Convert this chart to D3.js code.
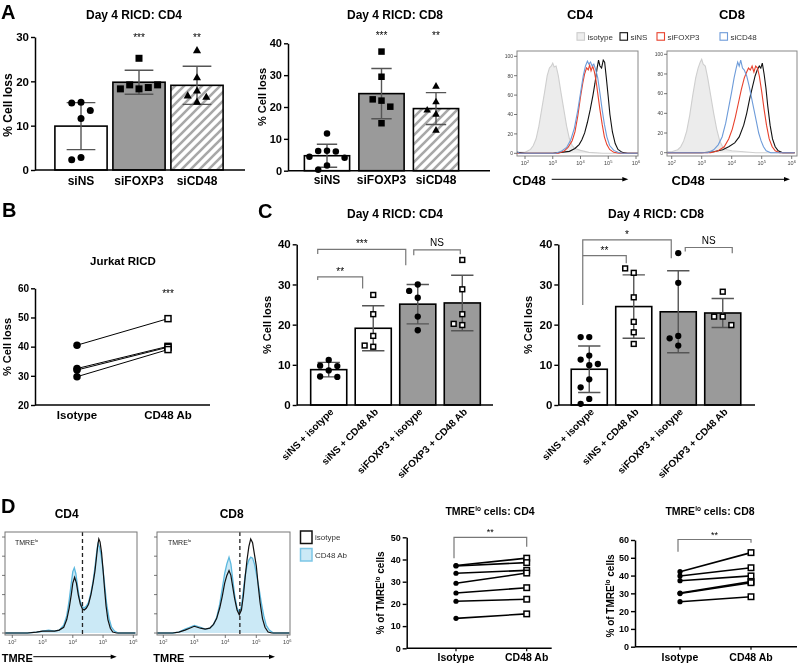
<!DOCTYPE html>
<html><head><meta charset="utf-8">
<script src="https://cdn.jsdelivr.net/npm/d3@7"></script>
<style>body{margin:0;background:#fff}svg{display:block;font-family:"Liberation Sans",Arial,sans-serif;will-change:transform;-webkit-font-smoothing:antialiased}</style>
</head><body><svg id="c" width="798" height="665"></svg>
<script>
// ================= DATA =================
// Panel A bar charts
const aCats = ["siNS", "siFOXP3", "siCD48"];
const aCD4Mean = [9.9, 19.8, 19.1];
const aCD4SD = [5.3, 2.7, 4.3];
const aCD4Pts = [
  [15.3, 15.1, 13.4, 11.6, 2.8, 2.3],
  [25.2, 18.3, 19.2, 18.6, 19.2, 18.3],
  [27.0, 20.9, 17.9, 16.8, 15.4, 16.5]
];
const aCD8Mean = [4.7, 24.2, 19.5];
const aCD8SD = [3.6, 7.9, 5.0];
const aCD8Pts = [
  [11.7, 6.3, 6.2, 6.0, 4.4, 4.1, 1.6, 0.3],
  [37.4, 29.5, 22.0, 22.4, 20.1, 14.9],
  [26.6, 21.7, 19.1, 17.8, 12.8]
];
const aCD4Ticks = [0, 10, 20, 30];
const aCD8Ticks = [0, 10, 20, 30, 40];
const aStars = ["", "***", "**"];

// Panel A histograms: [log10(CD48), % of max]
const histLegend = ["isotype", "siNS", "siFOXP3", "siCD48"];
const histTickExp = [2, 3, 4, 5, 6];
const histYTicks = [0, 20, 40, 60, 80, 100];
const isoA4 = [[1.7,1],[1.9,1],[2.0,1],[2.2,4],[2.3,8],[2.4,15],[2.5,28],[2.6,45],[2.7,62],[2.8,80],[2.88,88],[2.95,90],[3.0,93],[3.05,89],[3.12,90],[3.2,80],[3.3,62],[3.4,45],[3.5,28],[3.6,15],[3.7,8],[3.8,5],[4.0,3],[4.3,1],[4.8,0],[6.1,0]];
const nsA4 = [[1.7,1],[2.0,0],[3.0,0],[3.3,1],[3.6,2],[3.8,5],[3.95,9],[4.05,14],[4.15,21],[4.25,32],[4.35,45],[4.45,60],[4.52,72],[4.6,88],[4.65,96],[4.7,90],[4.76,88],[4.82,96],[4.87,94],[4.93,78],[5.0,58],[5.06,40],[5.15,22],[5.25,10],[5.35,4],[5.5,1],[5.7,0],[6.1,0]];
const foxA4 = [[1.7,0],[3.2,0],[3.4,2],[3.55,6],[3.7,13],[3.8,22],[3.9,38],[4.0,58],[4.08,72],[4.15,82],[4.22,88],[4.28,86],[4.33,91],[4.38,85],[4.44,90],[4.5,84],[4.56,75],[4.62,62],[4.7,45],[4.78,30],[4.86,17],[4.95,9],[5.05,4],[5.2,1],[5.4,0],[6.1,0]];
const cdA4 = [[1.7,2],[1.8,0],[3.1,0],[3.3,2],[3.5,6],[3.65,14],[3.78,26],[3.9,44],[4.0,62],[4.1,80],[4.18,90],[4.25,95],[4.3,92],[4.36,94],[4.42,90],[4.48,92],[4.55,86],[4.62,78],[4.7,62],[4.78,45],[4.86,30],[4.95,17],[5.05,8],[5.2,3],[5.35,1],[5.5,0],[6.1,0]];
const isoA8 = [[1.7,3],[1.8,1],[2.0,1],[2.2,3],[2.3,6],[2.4,12],[2.5,22],[2.6,38],[2.7,58],[2.8,76],[2.88,86],[2.95,92],[3.0,95],[3.05,90],[3.12,88],[3.2,76],[3.3,58],[3.4,40],[3.5,24],[3.6,12],[3.7,6],[3.85,3],[4.0,2],[4.4,1],[4.8,0],[6.1,0]];
const nsA8 = [[1.7,0],[3.0,0],[3.4,1],[3.7,3],[3.9,6],[4.1,10],[4.25,16],[4.4,28],[4.5,40],[4.6,55],[4.7,68],[4.78,78],[4.85,84],[4.92,88],[4.97,86],[5.02,91],[5.08,80],[5.14,66],[5.2,48],[5.28,28],[5.36,14],[5.45,6],[5.55,2],[5.7,0],[6.1,0]];
const foxA8 = [[1.7,0],[3.3,0],[3.55,2],[3.75,6],[3.9,14],[4.02,24],[4.12,36],[4.22,50],[4.32,64],[4.42,76],[4.5,82],[4.56,86],[4.62,84],[4.68,88],[4.74,82],[4.8,88],[4.86,86],[4.92,78],[5.0,62],[5.08,44],[5.16,28],[5.25,14],[5.35,6],[5.45,2],[5.6,0],[6.1,0]];
const cdA8 = [[1.7,2],[1.8,0],[3.2,0],[3.4,3],[3.55,8],[3.68,16],[3.8,30],[3.9,46],[4.0,62],[4.08,76],[4.15,86],[4.2,92],[4.25,88],[4.3,94],[4.36,86],[4.42,84],[4.5,78],[4.58,68],[4.66,56],[4.74,44],[4.82,32],[4.9,20],[4.98,12],[5.06,6],[5.15,2],[5.3,0],[6.1,0]];

// Panel B
const bCats = ["Isotype", "CD48 Ab"];
const bPairs = [[40.5, 49.6], [32.5, 40.1], [32.0, 39.8], [29.7, 39.0]];
const bTicks = [20, 30, 40, 50, 60];

// Panel C
const cCats = ["siNS + isotype", "siNS + CD48 Ab", "siFOXP3 + isotype", "siFOXP3 + CD48 Ab"];
const cCD4Mean = [8.8, 19.1, 25.1, 25.4];
const cCD4SD = [1.8, 5.6, 4.9, 6.9];
const cCD4Pts = [
  [11.2, 9.8, 9.7, 8.6, 7.1, 7.0],
  [27.4, 22.6, 17.2, 14.5, 14.8],
  [30.0, 28.4, 26.7, 22.0, 18.6],
  [36.1, 28.8, 22.6, 19.9, 20.2]
];
const cCD8Mean = [8.9, 24.5, 23.2, 22.9];
const cCD8SD = [5.8, 7.9, 10.2, 3.6];
const cCD8Pts = [
  [16.9, 16.9, 12.3, 11.3, 10.2, 9.9, 6.4, 4.4, 1.5, 0.3],
  [32.9, 34.0, 26.8, 20.7, 18.1, 15.2],
  [37.8, 30.4, 17.2, 16.6, 14.8],
  [28.2, 22.0, 22.0, 19.9]
];
const cTicks = [0, 10, 20, 30, 40];
const cCD4Sig = [["**", 0, 1], ["***", 0, 2], ["NS", 2, 3]];
const cCD8Sig = [["**", 0, 1], ["*", 0, 2], ["NS", 2, 3]];

// Panel D histograms: [log10(TMRE), % of max]
const dLegend = ["isotype", "CD48 Ab"];
const isoD4 = [[1.76,0],[2.5,0],[2.8,1],[3.0,2],[3.2,2],[3.4,2],[3.55,3],[3.7,6],[3.8,14],[3.88,26],[3.95,40],[4.0,52],[4.06,58],[4.12,52],[4.18,40],[4.25,30],[4.32,25],[4.38,24],[4.45,26],[4.52,30],[4.6,40],[4.67,52],[4.73,64],[4.78,78],[4.82,90],[4.86,98],[4.9,95],[4.95,84],[5.0,66],[5.05,46],[5.1,28],[5.16,14],[5.24,5],[5.32,1],[5.45,0],[6.07,0]];
const cdD4 = [[1.76,0],[2.5,0],[2.8,1],[3.0,2],[3.2,3],[3.4,2],[3.55,3],[3.7,8],[3.8,18],[3.88,34],[3.95,52],[4.0,64],[4.05,68],[4.1,62],[4.16,48],[4.22,36],[4.3,28],[4.37,26],[4.45,28],[4.52,32],[4.6,42],[4.67,54],[4.73,68],[4.78,82],[4.83,93],[4.88,90],[4.94,80],[5.0,66],[5.06,48],[5.12,30],[5.2,15],[5.28,6],[5.38,2],[5.5,0],[6.07,0]];
const isoD8 = [[1.8,0],[2.3,0],[2.5,1],[2.7,3],[2.85,5],[3.0,7],[3.1,6],[3.2,5],[3.35,4],[3.5,5],[3.62,9],[3.72,15],[3.82,26],[3.9,38],[3.98,52],[4.05,60],[4.12,65],[4.18,60],[4.24,48],[4.3,36],[4.38,24],[4.45,19],[4.52,24],[4.58,38],[4.64,58],[4.7,76],[4.76,90],[4.82,98],[4.88,94],[4.94,82],[5.0,70],[5.06,50],[5.12,32],[5.2,15],[5.28,6],[5.38,1],[5.5,0],[6.07,0]];
const cdD8 = [[1.8,0],[2.3,0],[2.5,1],[2.7,4],[2.85,6],[3.0,8],[3.1,7],[3.2,6],[3.35,4],[3.5,5],[3.62,9],[3.72,16],[3.82,30],[3.9,46],[3.98,62],[4.05,72],[4.12,79],[4.18,72],[4.24,56],[4.3,40],[4.38,26],[4.45,22],[4.52,28],[4.58,44],[4.64,60],[4.7,70],[4.76,76],[4.82,79],[4.88,78],[4.94,72],[5.0,62],[5.08,48],[5.16,32],[5.24,18],[5.32,8],[5.42,3],[5.55,0],[6.07,0]];
const dGateD4 = 4.32, dGateD8 = 4.47;

// Panel D paired plots
const dCats = ["Isotype", "CD48 Ab"];
const dCD4Pairs = [[37.3, 40.6], [37.1, 38.6], [33.8, 35.1], [29.3, 33.9], [24.9, 27.3], [21.2, 22.1], [13.5, 15.5]];
const dCD8Pairs = [[42.2, 52.9], [39.8, 44.4], [37.1, 39.8], [30.2, 36.6], [29.9, 36.0], [25.3, 28.1]];
const dCD4Ticks = [0, 10, 20, 30, 40, 50];
const dCD8Ticks = [0, 10, 20, 30, 40, 50, 60];

// ================= DRAWING =================
const svg = d3.select("#c");
const FONT = '"Liberation Sans", Arial, sans-serif';
const GRAY = "#9a9a9a";
const RED = "#e8412c", BLUE = "#6d9bd9";

const defs = svg.append("defs");
const pat = defs.append("pattern").attr("id", "hatch").attr("patternUnits", "userSpaceOnUse")
  .attr("width", 9).attr("height", 9);
pat.append("rect").attr("width", 9).attr("height", 9).attr("fill", "#fff");
pat.append("path").attr("d", "M-2,2 L2,-2 M0,9 L9,0 M7,11 L11,7").attr("stroke", "#a8a8a8").attr("stroke-width", 2.6);

function txt(g, x, y, s, o = {}) {
  return g.append("text").attr("x", x).attr("y", y).text(s)
    .attr("font-size", o.size || 12).attr("font-weight", o.weight || "bold")
    .attr("text-anchor", o.anchor || "middle").attr("fill", o.fill || "#000");
}
function supText(g, x, y, base, sup, o = {}) {
  const t = g.append("text").attr("x", x).attr("y", y)
    .attr("font-size", o.size || 12).attr("font-weight", o.weight || "bold")
    .attr("text-anchor", o.anchor || "middle").attr("fill", o.fill || "#000");
  t.append("tspan").text(base);
  t.append("tspan").text(sup).attr("font-size", (o.size || 12) * 0.62).attr("dy", -(o.size || 12) * 0.38);
  if (o.rest) t.append("tspan").text(o.rest).attr("dy", (o.size || 12) * 0.38);
  return t;
}
function yLabel(g, x, cy, s, size) {
  g.append("text").attr("transform", `translate(${x},${cy}) rotate(-90)`).attr("text-anchor", "middle")
    .attr("dominant-baseline", "central").attr("font-size", size).attr("font-weight", "bold").text(s);
}
function yAxis(g, y, x, ticks, fs) {
  const ax = g.append("g").attr("transform", `translate(${x},0)`)
    .call(d3.axisLeft(y).tickValues(ticks).tickSize(4).tickSizeOuter(0).tickPadding(2));
  ax.select(".domain").attr("stroke", "#000").attr("stroke-width", 1.5);
  ax.selectAll(".tick line").attr("stroke", "#000").attr("stroke-width", 1.4);
  ax.selectAll("text").attr("font-size", fs).attr("font-weight", "bold").attr("font-family", FONT).attr("fill", "#000");
  return ax;
}
function mark(g, type, x, y, s) {
  if (type === "dot") g.append("circle").attr("cx", x).attr("cy", y).attr("r", s / 2).attr("fill", "#000");
  else if (type === "sq") g.append("rect").attr("x", x - s / 2).attr("y", y - s / 2).attr("width", s).attr("height", s).attr("fill", "#000");
  else if (type === "osq") g.append("rect").attr("x", x - s / 2 + 0.75).attr("y", y - s / 2 + 0.75).attr("width", s - 1.5).attr("height", s - 1.5)
    .attr("fill", "#fff").attr("stroke", "#000").attr("stroke-width", 1.5);
  else if (type === "tri") g.append("path")
    .attr("d", `M${x},${y - s * 0.6}L${x + s * 0.58},${y + s * 0.42}L${x - s * 0.58},${y + s * 0.42}Z`).attr("fill", "#000");
}
function swarm(vals, y, cx, minD, step) {
  const placed = [];
  return vals.map(v => {
    const py = y(v);
    let px = cx;
    for (let k = 0; k < 40; k++) {
      const cand = cx + (k === 0 ? 0 : (k % 2 ? -1 : 1) * Math.ceil(k / 2) * step);
      if (placed.every(p => Math.hypot(p[0] - cand, p[1] - py) >= minD)) { px = cand; break; }
    }
    placed.push([px, py]);
    return [px, py];
  });
}

function barPanel(o) {
  const g = svg.append("g");
  const y = d3.scaleLinear().domain([0, o.ymax]).range([o.yb, o.yt]);
  const x = d3.scaleBand().domain(o.cats).range(o.xr).paddingInner(o.pi).paddingOuter(o.pi / 2);
  const bw = x.bandwidth();
  o.cats.forEach((c, i) => {
    const cx = x(c) + bw / 2;
    g.append("rect").attr("x", x(c)).attr("y", y(o.mean[i])).attr("width", bw).attr("height", y(0) - y(o.mean[i]))
      .attr("fill", o.fills[i]).attr("stroke", "#000").attr("stroke-width", 1.6);
    const eT = y(o.mean[i] + o.sd[i]), eB = y(Math.max(0, o.mean[i] - o.sd[i]));
    const cw = bw * o.cap / 2;
    g.append("path").attr("d", `M${cx},${eT}V${eB}M${cx - cw},${eT}H${cx + cw}M${cx - cw},${eB}H${cx + cw}`)
      .attr("stroke", "#555").attr("stroke-width", 1.4).attr("fill", "none");
    swarm(o.pts[i], y, cx, o.ms + 2.3, o.ms + 2.3).forEach(p => mark(g, o.marks[i], p[0], p[1], o.ms));
  });
  yAxis(g, y, o.ax, o.ticks, o.tfs);
  g.append("line").attr("x1", o.ax).attr("x2", o.axEnd).attr("y1", y(0)).attr("y2", y(0)).attr("stroke", "#000").attr("stroke-width", 1.5);
  return { g, x, y, bw };
}

function bracket(g, x1, x2, yt, y1, y2) {
  g.append("path").attr("d", `M${x1},${y1}V${yt}H${x2}V${y2}`).attr("fill", "none").attr("stroke", "#777").attr("stroke-width", 1.2);
}

function hist(o) {
  const g = svg.append("g");
  const x = d3.scaleLog().domain([1e2, 1e6]).range(o.xr);
  const y = d3.scaleLinear().domain([0, 100]).range(o.yr);
  const [bx0, by0, bx1, by1] = o.box;
  defs.append("clipPath").attr("id", o.id).append("rect").attr("x", bx0).attr("y", by0).attr("width", bx1 - bx0).attr("height", by1 - by0);
  const cg = g.append("g").attr("clip-path", `url(#${o.id})`);
  const line = d3.line().x(d => x(Math.pow(10, d[0]))).y(d => y(d[1]));
  const area = d3.area().x(d => x(Math.pow(10, d[0]))).y0(y(0)).y1(d => y(d[1]));
  o.curves.forEach(c => {
    if (c.fill) cg.append("path").datum(c.data).attr("d", area).attr("fill", c.fill);
    cg.append("path").datum(c.data).attr("d", line).attr("fill", "none").attr("stroke", c.stroke).attr("stroke-width", c.sw || 1.1);
  });
  if (o.gate) g.append("line").attr("x1", x(Math.pow(10, o.gate))).attr("x2", x(Math.pow(10, o.gate))).attr("y1", by0).attr("y2", by1)
    .attr("stroke", "#222").attr("stroke-width", 1.3).attr("stroke-dasharray", "4,3");
  g.append("rect").attr("x", bx0).attr("y", by0).attr("width", bx1 - bx0).attr("height", by1 - by0)
    .attr("fill", "none").attr("stroke", o.frame || "#777").attr("stroke-width", 1);
  histTickExp.forEach(e => {
    const px = x(Math.pow(10, e));
    g.append("line").attr("x1", px).attr("x2", px).attr("y1", by1).attr("y2", by1 + 3).attr("stroke", "#555").attr("stroke-width", 0.8);
    const t = g.append("text").attr("x", px).attr("y", by1 + 9).attr("text-anchor", "middle").attr("font-size", 5.5).attr("fill", "#444");
    t.append("tspan").text("10");
    t.append("tspan").text(e).attr("font-size", 4).attr("dy", -2.5);
  });
  histYTicks.forEach(v => {
    g.append("line").attr("x1", bx0 - 3).attr("x2", bx0).attr("y1", y(v)).attr("y2", y(v)).attr("stroke", "#555").attr("stroke-width", 0.8);
    if (o.yLabels) g.append("text").attr("x", bx0 - 4).attr("y", y(v) + 1.8).attr("text-anchor", "end").attr("font-size", 5).attr("fill", "#444").text(v);
  });
  return g;
}
function arrow(g, x1, x2, y) {
  g.append("line").attr("x1", x1).attr("x2", x2 - 5).attr("y1", y).attr("y2", y).attr("stroke", "#000").attr("stroke-width", 1);
  g.append("path").attr("d", `M${x2},${y}L${x2 - 6},${y - 2.3}L${x2 - 6},${y + 2.3}Z`).attr("fill", "#000");
}

const L = svg.append("g");
// ---- panel letters ----
txt(L, 1, 19, "A", { size: 20, anchor: "start" });
txt(L, 2, 217, "B", { size: 20, anchor: "start" });
txt(L, 258, 218, "C", { size: 20, anchor: "start" });
txt(L, 1, 513, "D", { size: 20, anchor: "start" });

// ---- A: CD4 bars ----
const A1 = barPanel({ cats: aCats, mean: aCD4Mean, sd: aCD4SD, pts: aCD4Pts, ymax: 30, yb: 170, yt: 37,
  xr: [52, 226], pi: 0.1, cap: 0.55, ax: 35, axEnd: 245, ticks: aCD4Ticks, tfs: 11.5,
  fills: ["#fff", GRAY, "url(#hatch)"], marks: ["dot", "sq", "tri"], ms: 7 });
txt(L, 134, 19, "Day 4 RICD: CD4", { size: 12 });
aCats.forEach((c, i) => {
  txt(L, A1.x(c) + A1.bw / 2, 185, c, { size: 12 });
  if (aStars[i]) txt(L, A1.x(c) + A1.bw / 2, 40.5, aStars[i], { size: 10, weight: "normal" });
});
yLabel(L, 8, 105, "% Cell loss", 12);

// ---- A: CD8 bars ----
const A2 = barPanel({ cats: aCats, mean: aCD8Mean, sd: aCD8SD, pts: aCD8Pts, ymax: 40, yb: 170.7, yt: 43.3,
  xr: [299.75, 463.25], pi: 0.17, cap: 0.45, ax: 288, axEnd: 490, ticks: aCD8Ticks, tfs: 11,
  fills: ["#fff", GRAY, "url(#hatch)"], marks: ["dot", "sq", "tri"], ms: 6.5 });
txt(L, 395, 19, "Day 4 RICD: CD8", { size: 12 });
aCats.forEach((c, i) => {
  txt(L, A2.x(c) + A2.bw / 2, 184, c, { size: 12 });
  if (aStars[i]) txt(L, A2.x(c) + A2.bw / 2, 39, aStars[i], { size: 10, weight: "normal" });
});
yLabel(L, 262, 97, "% Cell loss", 11);

// ---- A: histograms ----
hist({ id: "hA4", box: [517, 51, 638, 156], xr: [525, 636], yr: [153.3, 56.3], yLabels: true, frame: "#888",
  curves: [{ data: isoA4, fill: "#ececec", stroke: "#cfcfcf" }, { data: nsA4, stroke: "#111" },
           { data: foxA4, stroke: RED }, { data: cdA4, stroke: BLUE }] });
hist({ id: "hA8", box: [667, 51, 797, 156], xr: [671.7, 791.7], yr: [152.7, 54.3], yLabels: true, frame: "#888",
  curves: [{ data: isoA8, fill: "#ececec", stroke: "#cfcfcf" }, { data: nsA8, stroke: "#111" },
           { data: foxA8, stroke: RED }, { data: cdA8, stroke: BLUE }] });
txt(L, 580, 19, "CD4", { size: 13 });
txt(L, 732, 19, "CD8", { size: 13 });
const legX = [577, 620, 657, 720];
const legFill = ["#eeeeee", "#fff", "#fff", "#fff"];
const legStroke = ["#cccccc", "#111", RED, BLUE];
histLegend.forEach((s, i) => {
  L.append("rect").attr("x", legX[i]).attr("y", 32.7).attr("width", 7.5).attr("height", 7.5)
    .attr("fill", legFill[i]).attr("stroke", legStroke[i]).attr("stroke-width", 1.1);
  txt(L, legX[i] + 10.5, 39.5, s, { size: 8, weight: "normal", anchor: "start", fill: "#333" });
});
txt(L, 512.5, 185, "CD48", { size: 13, anchor: "start" });
arrow(L, 551.7, 628.3, 179.3);
txt(L, 671.5, 185, "CD48", { size: 13, anchor: "start" });
arrow(L, 710, 790, 179.3);

// ---- B ----
{
  const g = svg.append("g");
  const y = d3.scaleLinear().domain([20, 60]).range([405, 288.3]);
  const x = d3.scalePoint().domain(bCats).range([77, 168]);
  bPairs.forEach(p => g.append("line").attr("x1", x(bCats[0])).attr("x2", x(bCats[1])).attr("y1", y(p[0])).attr("y2", y(p[1]))
    .attr("stroke", "#000").attr("stroke-width", 1));
  bPairs.forEach(p => { mark(g, "dot", x(bCats[0]), y(p[0]), 7.5); mark(g, "osq", x(bCats[1]), y(p[1]), 7.5); });
  yAxis(g, y, 35, bTicks, 10);
  g.append("line").attr("x1", 35).attr("x2", 210).attr("y1", 405).attr("y2", 405).attr("stroke", "#000").attr("stroke-width", 1.5);
  bCats.forEach(c => txt(g, x(c), 419, c, { size: 11.5 }));
  txt(g, 123, 265, "Jurkat RICD", { size: 11.5 });
  txt(g, x(bCats[1]), 296.5, "***", { size: 10, weight: "normal" });
  yLabel(g, 7, 347, "% Cell loss", 11);
}

// ---- C ----
function cPanel(o) {
  const P = barPanel({ cats: cCats, mean: o.mean, sd: o.sd, pts: o.pts, ymax: 40, yb: 405, yt: 244.3,
    xr: o.xr, pi: 0.19, cap: 0.62, ax: o.ax, axEnd: o.axEnd, ticks: cTicks, tfs: 11.5,
    fills: ["#fff", "#fff", GRAY, GRAY], marks: ["dot", "osq", "dot", "osq"], ms: 6.3 });
  const cx = c => P.x(c) + P.bw / 2;
  cCats.forEach(c => {
    const px = cx(c) + 3, py = 410;
    P.g.append("text").attr("transform", `translate(${px},${py}) rotate(-45)`).attr("text-anchor", "end")
      .attr("dominant-baseline", "central").attr("font-size", 10).attr("font-weight", "bold").text(c);
  });
  o.sig.forEach((s, k) => {
    const b = o.br[k];
    const x1 = cx(cCats[s[1]]) + b[0], x2 = cx(cCats[s[2]]) + b[1];
    bracket(P.g, x1, x2, P.y(b[2]), P.y(b[3]), P.y(b[4]));
    const isNS = s[0] === "NS";
    txt(P.g, (x1 + x2) / 2, P.y(b[2]) - (isNS ? 3.5 : 2), s[0], { size: 10, weight: "normal" });
  });
  txt(P.g, o.tx, 218, o.title, { size: 12 });
  yLabel(P.g, o.yl, 325, "% Cell loss", 11);
}
cPanel({ mean: cCD4Mean, sd: cCD4SD, pts: cCD4Pts, xr: [306.45, 484.55], ax: 296.7, axEnd: 493,
  sig: cCD4Sig, br: [[-11, -10.6, 31.9, 31.1, 29.0], [-11, -12, 38.75, 37.6, 34.8], [-4, -2, 38.6, 37.3, 37.5]],
  tx: 395, title: "Day 4 RICD: CD4", yl: 266.7 });
cPanel({ mean: cCD8Mean, sd: cCD8SD, pts: cCD8Pts, xr: [567, 745], ax: 558.3, axEnd: 755,
  sig: cCD8Sig, br: [[-6.5, -7.5, 37.2, 37.2, 35.3], [-6.5, -7, 41.1, 24.9, 36.5], [7, 9.5, 39.2, 38.2, 37.8]],
  tx: 656, title: "Day 4 RICD: CD8", yl: 528.3 });

// ---- D histograms ----
hist({ id: "hD4", box: [5, 532, 137, 635], xr: [12.3, 133.3], yr: [633, 537], gate: dGateD4, frame: "#777",
  curves: [{ data: cdD4, fill: "#cbe9f6", stroke: "#5cb8de", sw: 1.3 }, { data: isoD4, stroke: "#111", sw: 1.2 }] });
hist({ id: "hD8", box: [157, 532, 290, 635], xr: [163.3, 287.3], yr: [633, 537], gate: dGateD8, frame: "#777",
  curves: [{ data: cdD8, fill: "#cbe9f6", stroke: "#5cb8de", sw: 1.3 }, { data: isoD8, stroke: "#111", sw: 1.2 }] });
txt(L, 66.7, 518, "CD4", { size: 12 });
txt(L, 231.7, 518, "CD8", { size: 12 });
supText(L, 15, 545, "TMRE", "lo", { size: 7, weight: "normal", anchor: "start", fill: "#222" });
supText(L, 168, 545, "TMRE", "lo", { size: 7, weight: "normal", anchor: "start", fill: "#222" });
txt(L, 1.7, 661.5, "TMRE", { size: 11, anchor: "start" });
arrow(L, 33.3, 116.7, 656.7);
txt(L, 153.3, 661.5, "TMRE", { size: 11, anchor: "start" });
arrow(L, 189.3, 275, 656.7);
L.append("rect").attr("x", 300.5).attr("y", 531).attr("width", 11.5).attr("height", 12.5).attr("fill", "#fff").attr("stroke", "#111").attr("stroke-width", 1.5);
L.append("rect").attr("x", 300.5).attr("y", 548.5).attr("width", 11.5).attr("height", 12.5).attr("fill", "#cbe9f6").attr("stroke", "#7cc6e6").attr("stroke-width", 1.5);
txt(L, 315, 540, dLegend[0], { size: 8, weight: "normal", anchor: "start", fill: "#333" });
txt(L, 315, 558, dLegend[1], { size: 8, weight: "normal", anchor: "start", fill: "#333" });

// ---- D paired plots ----
function pairPanel(o) {
  const g = svg.append("g");
  const y = d3.scaleLinear().domain([0, o.ymax]).range([o.yb, o.yt]);
  const x = d3.scalePoint().domain(dCats).range(o.xr);
  o.pairs.forEach(p => g.append("line").attr("x1", x(dCats[0])).attr("x2", x(dCats[1])).attr("y1", y(p[0])).attr("y2", y(p[1]))
    .attr("stroke", "#000").attr("stroke-width", 1.6));
  o.pairs.forEach(p => { mark(g, "dot", x(dCats[0]), y(p[0]), 5.2); mark(g, "osq", x(dCats[1]), y(p[1]), 7); });
  yAxis(g, y, o.ax, o.ticks, 9);
  g.append("line").attr("x1", o.ax).attr("x2", o.axEnd).attr("y1", o.yb).attr("y2", o.yb).attr("stroke", "#000").attr("stroke-width", 1.5);
  dCats.forEach(c => {
    g.append("line").attr("x1", x(c)).attr("x2", x(c)).attr("y1", o.yb).attr("y2", o.yb + 3).attr("stroke", "#000").attr("stroke-width", 1.2);
    txt(g, x(c), 660.5, c, { size: 10.5 });
  });
  const x1 = x(dCats[0]) - 2, x2 = x(dCats[1]);
  bracket(g, x1, x2, o.br[0], o.br[1], o.br[2]);
  txt(g, (x1 + x2) / 2, o.br[0] - 2, "**", { size: 9, weight: "normal" });
  supText(g, o.tx, 515, "TMRE", "lo", { size: 10.5, rest: o.title });
  const yl = g.append("text").attr("transform", `translate(${o.yl},${o.ylc}) rotate(-90)`).attr("text-anchor", "middle")
    .attr("dominant-baseline", "central").attr("font-size", 10).attr("font-weight", "bold");
  yl.append("tspan").text("% of TMRE");
  yl.append("tspan").text("lo").attr("font-size", 6.5).attr("dy", -3.5);
  yl.append("tspan").text(" cells").attr("dy", 3.5);
}
pairPanel({ pairs: dCD4Pairs, ymax: 50, yb: 648.3, yt: 537.3, xr: [456, 526.7], ax: 406.7, axEnd: 551.7, ticks: dCD4Ticks,
  br: [537.3, 558.3, 546.7], tx: 490, title: " cells: CD4", yl: 380, ylc: 593 });
pairPanel({ pairs: dCD8Pairs, ymax: 60, yb: 646.7, yt: 540, xr: [680, 751], ax: 635, axEnd: 797, ticks: dCD8Ticks,
  br: [539.5, 551.7, 542.7], tx: 710, title: " cells: CD8", yl: 610, ylc: 596 });
</script></body></html>
